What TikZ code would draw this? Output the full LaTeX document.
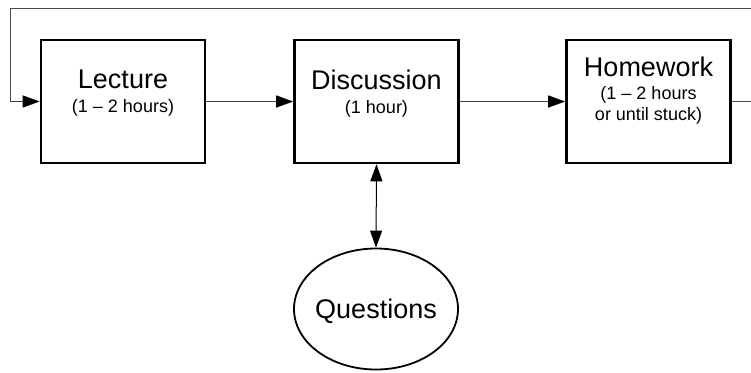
\documentclass[tikz,border=0pt]{standalone}
\usepackage{fontspec}
\setmainfont{Liberation Sans}
\usetikzlibrary{arrows.meta,shapes.geometric}

\tikzset{
  stagebox/.style={draw=black, line width=2.6pt, minimum width=164pt, minimum height=123pt, inner sep=0pt},
  askbubble/.style={ellipse, draw=black, line width=1.8pt, minimum width=164pt, minimum height=121pt, inner sep=0pt},
  headtext/.style={anchor=base, inner sep=0pt, font=\fontsize{27}{32}\selectfont},
  subtext/.style={anchor=base, inner sep=0pt, font=\fontsize{18}{21}\selectfont, align=center},
  flow/.style={draw=black!75, line width=1pt, -{Triangle[length=17pt,width=12pt,color=black]}},
  twoway/.style={draw=black, line width=1pt, {Triangle[length=17pt,width=12pt]}-{Triangle[length=17pt,width=12pt]}},
  loopline/.style={draw=black!70, line width=1pt}
}

\begin{document}
\begin{tikzpicture}[x=1pt, y=-1pt]
  \useasboundingbox (0,0) rectangle (751,372);

  % the three stages
  \node[stagebox] (lecture) at (123,101.5) {};
  \node[stagebox] (discussion) at (376.5,101.5) {};
  \node[stagebox] (homework) at (648.5,101.5) {};

  \node[headtext] (lecturehead) at (123,88) {Lecture};
  \node[subtext] (lecturesub) at (123,112.5) {(1 -- 2 hours)};

  \node[headtext] (discussionhead) at (376.5,89) {Discussion};
  \node[subtext] (discussionsub) at (376.5,113) {(1 hour)};

  \node[headtext] (homeworkhead) at (648.5,76) {Homework};
  \node[subtext, anchor=north] (homeworksub) at (648.5,86) {(1 -- 2 hours\\or until stuck)};

  % questions raised during discussion
  \node[askbubble] (questions) at (376,309) {};
  \node[headtext] (questionshead) at (376,318) {Questions};

  % forward flow
  \draw[flow] (lecture.east) -- (discussion.west);
  \draw[flow] (discussion.east) -- (homework.west);
  \draw[twoway] (discussion.south) -- (questions.north);

  % loop back from homework to the next lecture
  \coordinate (outright) at (753,101.5);
  \coordinate (topright) at (753,8);
  \coordinate (topleft) at (10,8);
  \coordinate (inleft) at (10,101.5);
  \draw[loopline] (homework.east) -- (outright) -- (topright) -- (topleft) -- (inleft);
  \draw[flow] (inleft) -- (lecture.west);
\end{tikzpicture}
\end{document}
